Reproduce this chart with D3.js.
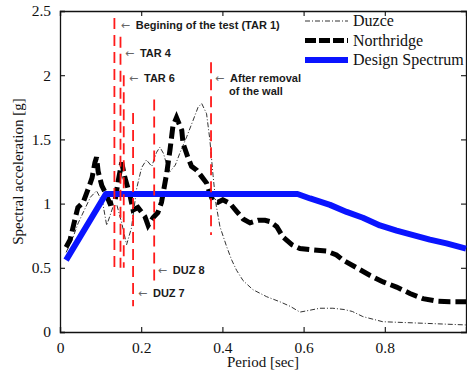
<!DOCTYPE html>
<html>
<head>
<meta charset="utf-8">
<script src="https://cdn.jsdelivr.net/npm/d3@7"></script>
<style>
  html, body { margin: 0; padding: 0; background: #fff; }
  svg { display: block; }
</style>
</head>
<body>
<svg id="chart" width="467" height="374"></svg>
<script>
// Response spectra: period [sec] vs spectral acceleration [g]
const xTicks = [0, 0.2, 0.4, 0.6, 0.8];
const yTicks = [0, 0.5, 1, 1.5, 2, 2.5];

const northridgeT = [0.015, 0.025, 0.037, 0.044, 0.057, 0.069, 0.079, 0.086, 0.090, 0.094, 0.103, 0.111, 0.123, 0.135, 0.143, 0.152, 0.160, 0.172, 0.180, 0.192, 0.209, 0.217, 0.229, 0.241, 0.250, 0.254, 0.263, 0.271, 0.278, 0.287, 0.300, 0.303, 0.315, 0.324, 0.337, 0.349, 0.361, 0.369, 0.377, 0.389, 0.401, 0.419, 0.435, 0.451, 0.468, 0.488, 0.505, 0.517, 0.534, 0.549, 0.571, 0.591, 0.623, 0.657, 0.681, 0.697, 0.731, 0.764, 0.796, 0.829, 0.862, 0.894, 0.928, 0.961, 1.0];
const northridgeSa = [0.66, 0.72, 0.88, 0.97, 1.01, 1.11, 1.20, 1.32, 1.36, 1.25, 1.14, 1.09, 1.00, 1.01, 1.17, 1.32, 1.20, 1.07, 0.95, 0.97, 0.90, 0.83, 0.89, 0.93, 1.01, 1.08, 1.24, 1.42, 1.60, 1.67, 1.57, 1.47, 1.36, 1.29, 1.26, 1.21, 1.16, 1.08, 1.02, 1.01, 1.03, 1.00, 0.94, 0.88, 0.85, 0.87, 0.87, 0.86, 0.82, 0.74, 0.68, 0.65, 0.64, 0.63, 0.60, 0.56, 0.50, 0.44, 0.39, 0.35, 0.30, 0.26, 0.24, 0.235, 0.235];

const duzceT = [0.015, 0.03, 0.045, 0.06, 0.075, 0.09, 0.105, 0.115, 0.13, 0.140, 0.152, 0.164, 0.176, 0.189, 0.201, 0.213, 0.226, 0.238, 0.246, 0.255, 0.263, 0.271, 0.284, 0.296, 0.312, 0.328, 0.340, 0.349, 0.361, 0.369, 0.377, 0.384, 0.394, 0.411, 0.423, 0.435, 0.451, 0.475, 0.509, 0.542, 0.567, 0.591, 0.616, 0.640, 0.672, 0.700, 0.720, 0.746, 0.795, 0.879, 1.0];
const duzceSa = [0.62, 0.72, 0.85, 0.95, 1.05, 1.10, 1.01, 0.83, 0.97, 0.99, 0.85, 0.68, 0.81, 1.12, 1.28, 1.34, 1.29, 1.40, 1.44, 1.39, 1.30, 1.25, 1.30, 1.40, 1.52, 1.65, 1.75, 1.78, 1.70, 1.50, 1.22, 1.00, 0.82, 0.66, 0.56, 0.48, 0.40, 0.33, 0.275, 0.235, 0.20, 0.155, 0.17, 0.185, 0.185, 0.175, 0.16, 0.12, 0.08, 0.07, 0.055];

const designT = [0.015, 0.113, 0.585, 0.616, 0.665, 0.706, 0.746, 0.788, 0.829, 0.870, 0.911, 0.952, 1.0];
const designSa = [0.56, 1.075, 1.075, 1.04, 0.99, 0.935, 0.89, 0.83, 0.79, 0.755, 0.72, 0.69, 0.65];

// Test stages marked on the spectra (period, top and bottom of the marker)
const stageT = [0.134, 0.149, 0.157, 0.180, 0.232, 0.372];
const stageTop = [2.445, 2.30, 2.00, 1.705, 1.81, 2.10];
const stageBottom = [0.50, 0.50, 0.50, 0.20, 0.40, 0.755];

// Stage notes: arrow tip period, level, and text lines
const noteT = [0.1495, 0.160, 0.170, 0.382, 0.241, 0.192];
const noteSa = [2.39, 2.175, 1.978, 1.978, 0.483, 0.304];
const noteText = [
  ["Begining of the test (TAR 1)"],
  ["TAR 4"],
  ["TAR 6"],
  ["After removal", "of the wall"],
  ["DUZ 8"],
  ["DUZ 7"]
];

const legendNames = ["Duzce", "Northridge", "Design Spectrum"];

const svg = d3.select("#chart");

const x = d3.scaleLinear().domain([0, 1]).range([60, 466]);
const y = d3.scaleLinear().domain([0, 2.5]).range([332, 11]);

const serif = "'Liberation Serif', 'Times New Roman', serif";
const sans = "'Liberation Sans', Arial, sans-serif";

const zip = (a, b) => a.map((v, i) => [v, b[i]]);
const line = d3.line().x(d => x(d[0])).y(d => y(d[1]));

// Frame and axes
const axisG = svg.append("g");
const fmt = d => d === 0 ? "0" : String(d);

axisG.append("g").attr("transform", `translate(0,${y(0)})`)
  .call(d3.axisBottom(x).tickValues(xTicks).tickSize(-5).tickPadding(10).tickFormat(fmt));
axisG.append("g").attr("transform", `translate(0,${y(2.5)})`)
  .call(d3.axisTop(x).tickValues(xTicks).tickSize(-5).tickFormat(""));
axisG.append("g").attr("transform", `translate(${x(0)},0)`)
  .call(d3.axisLeft(y).tickValues(yTicks).tickSize(-5).tickPadding(9).tickFormat(fmt));
axisG.append("g").attr("transform", `translate(${x(1)},0)`)
  .call(d3.axisRight(y).tickValues(yTicks).tickSize(-5).tickFormat(""));

axisG.selectAll(".domain").attr("stroke", "#111").attr("stroke-width", 1.3);
axisG.selectAll(".tick line").attr("stroke", "#111").attr("stroke-width", 1.1);
axisG.selectAll(".tick text").attr("font-family", serif).attr("font-size", 15.5).attr("fill", "#111");

svg.append("text")
  .attr("x", (x(0) + x(1)) / 2).attr("y", 367)
  .attr("text-anchor", "middle")
  .attr("font-family", serif).attr("font-size", 15).attr("fill", "#111")
  .text("Period [sec]");

svg.append("text")
  .attr("transform", `translate(23,${(y(0) + y(2.5)) / 2}) rotate(-90)`)
  .attr("text-anchor", "middle")
  .attr("font-family", serif).attr("font-size", 15).attr("fill", "#111")
  .text("Spectral acceleration [g]");

// Spectra
const plot = svg.append("g");

plot.append("path")
  .datum(zip(duzceT, duzceSa))
  .attr("d", line)
  .attr("fill", "none").attr("stroke", "#333").attr("stroke-width", 1)
  .attr("stroke-dasharray", "5,2,1,2");

plot.append("path")
  .datum(zip(northridgeT, northridgeSa))
  .attr("d", line)
  .attr("fill", "none").attr("stroke", "#000").attr("stroke-width", 5)
  .attr("stroke-dasharray", "12,5");

plot.append("path")
  .datum(zip(designT, designSa))
  .attr("d", line)
  .attr("fill", "none").attr("stroke", "#0a14ff").attr("stroke-width", 6)
  .attr("stroke-linejoin", "round");

// Stage markers
plot.selectAll("line.stage")
  .data(stageT.map((t, i) => ({ t, hi: stageTop[i], lo: stageBottom[i] })))
  .join("line")
  .attr("class", "stage")
  .attr("x1", d => x(d.t)).attr("x2", d => x(d.t))
  .attr("y1", d => y(d.hi)).attr("y2", d => y(d.lo))
  .attr("stroke", "#ff1a1a").attr("stroke-width", 1.8)
  .attr("stroke-dasharray", "11,6");

// Stage notes
const notes = svg.append("g");
noteT.forEach((t, i) => {
  const ax = x(t), ay = y(noteSa[i]);
  notes.append("text")
    .attr("x", ax).attr("y", ay + 4)
    .attr("font-family", "'DejaVu Sans', sans-serif").attr("font-size", 11)
    .attr("fill", "#666")
    .text("←");
  noteText[i].forEach((s, k) => {
    notes.append("text")
      .attr("x", ax + 15 - k).attr("y", ay + 4 + k * 13)
      .attr("font-family", sans).attr("font-size", 11)
      .attr("font-weight", "bold")
      .attr("fill", "#1a1a1a")
      .text(s);
  });
});

// Legend
const legend = svg.append("g");
const legendStyles = [
  { stroke: "#333", width: 1, dash: "5,2,1,2" },
  { stroke: "#000", width: 5, dash: "11,3" },
  { stroke: "#0a14ff", width: 6, dash: null }
];
legendNames.forEach((name, i) => {
  const ly = 21 + i * 19.5;
  const st = legendStyles[i];
  legend.append("line")
    .attr("x1", 305).attr("x2", 348)
    .attr("y1", ly).attr("y2", ly)
    .attr("stroke", st.stroke).attr("stroke-width", st.width)
    .attr("stroke-dasharray", st.dash);
  legend.append("text")
    .attr("x", 353).attr("y", ly + 5)
    .attr("font-family", serif).attr("font-size", 16).attr("fill", "#111")
    .text(name);
});
</script>
</body>
</html>
